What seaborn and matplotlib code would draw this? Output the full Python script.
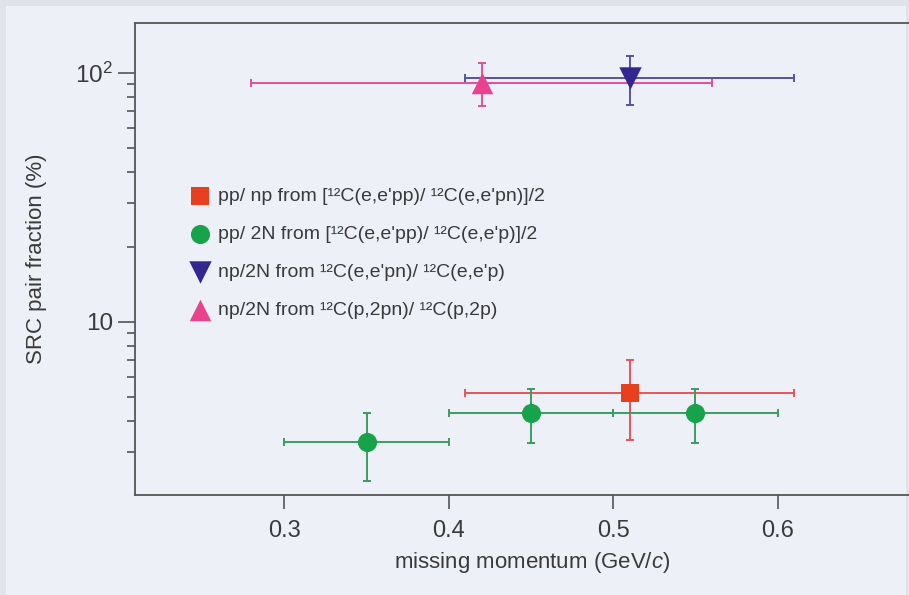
import numpy as np
import pandas as pd
import matplotlib
matplotlib.use("Agg")
import matplotlib.pyplot as plt
import seaborn as sns
from matplotlib.patches import Rectangle
from matplotlib.ticker import FixedLocator, FixedFormatter, NullFormatter

# --- data -----------------------------------------------------------------
labels = [
    "pp/ np from [¹²C(e,e'pp)/ ¹²C(e,e'pn)]/2",
    "pp/ 2N from [¹²C(e,e'pp)/ ¹²C(e,e'p)]/2",
    "np/2N from ¹²C(e,e'pn)/ ¹²C(e,e'p)",
    "np/2N from ¹²C(p,2pn)/ ¹²C(p,2p)",
]

pp_np_p = [0.51]
pp_np_frac = [5.15]
pp_np_err_lo = [1.8]
pp_np_err_hi = [1.85]
pp_np_bin_lo = [0.41]
pp_np_bin_hi = [0.61]

pp_2n_p = [0.35, 0.45, 0.55]
pp_2n_frac = [3.3, 4.3, 4.3]
pp_2n_err_lo = [1.0, 1.05, 1.05]
pp_2n_err_hi = [1.0, 1.05, 1.05]
pp_2n_bin_lo = [0.30, 0.40, 0.50]
pp_2n_bin_hi = [0.40, 0.50, 0.60]

np_2n_e_p = [0.51]
np_2n_e_frac = [95.0]
np_2n_e_err_lo = [21.0]
np_2n_e_err_hi = [22.0]
np_2n_e_bin_lo = [0.41]
np_2n_e_bin_hi = [0.61]

np_2n_p_p = [0.42]
np_2n_p_frac = [91.0]
np_2n_p_err_lo = [17.5]
np_2n_p_err_hi = [18.7]
np_2n_p_bin_lo = [0.28]
np_2n_p_bin_hi = [0.56]

y_ticks = [10, 100]
y_tick_labels = ["10", "$10^2$"]
x_ticks = [0.3, 0.4, 0.5, 0.6]
x_tick_labels = ["0.3", "0.4", "0.5", "0.6"]

# --- styling -----------------------------------------------------------------
sns.set_theme(style="ticks")
plt.rcParams["font.family"] = ["Liberation Sans Narrow", "Liberation Sans", "DejaVu Sans"]
plt.rcParams["mathtext.fontset"] = "custom"
plt.rcParams["mathtext.rm"] = "Liberation Sans"
plt.rcParams["mathtext.it"] = "Liberation Sans:italic"

panel = "#eef0f7"
edge = "#e0e3e9"
text_col = "#3a3a3a"
spine_col = "#555555"

colors = ["#e8401f", "#17a34a", "#33268f", "#e8438f"]
err_colors = ["#e8525a", "#3a9c60", "#5850a2", "#e0509a"]
markers = ["s", "o", "v", "^"]
sizes = [150, 190, 260, 240]

groups = [
    (pp_np_p, pp_np_frac, pp_np_err_lo, pp_np_err_hi, pp_np_bin_lo, pp_np_bin_hi),
    (pp_2n_p, pp_2n_frac, pp_2n_err_lo, pp_2n_err_hi, pp_2n_bin_lo, pp_2n_bin_hi),
    (np_2n_e_p, np_2n_e_frac, np_2n_e_err_lo, np_2n_e_err_hi, np_2n_e_bin_lo, np_2n_e_bin_hi),
    (np_2n_p_p, np_2n_p_frac, np_2n_p_err_lo, np_2n_p_err_hi, np_2n_p_bin_lo, np_2n_p_bin_hi),
]

W, H = 909, 595
fig = plt.figure(figsize=(W / 100, H / 100), dpi=100)
fig.patch.set_facecolor(edge)
fig.patches.append(Rectangle((6 / W, 0), (W - 9) / W, (H - 6) / H,
                             transform=fig.transFigure, facecolor=panel,
                             edgecolor="none", zorder=-10))

ax_left, ax_right, ax_top, ax_bottom = 135, 930, 22.7, 495
ax = fig.add_axes([ax_left / W, (H - ax_bottom) / H,
                   (ax_right - ax_left) / W, (ax_bottom - ax_top) / H])
ax.set_facecolor("none")

frames = []
for lab, (p, f, elo, ehi, blo, bhi) in zip(labels, groups):
    frames.append(pd.DataFrame({"p": p, "frac": f, "err_lo": elo, "err_hi": ehi,
                                "bin_lo": blo, "bin_hi": bhi, "series": lab}))
df = pd.concat(frames, ignore_index=True)

# error bars: horizontal = momentum bin, vertical = uncertainty
for i, lab in enumerate(labels):
    d = df[df["series"] == lab]
    ax.errorbar(d["p"], d["frac"],
                xerr=[d["p"] - d["bin_lo"], d["bin_hi"] - d["p"]],
                yerr=[d["err_lo"], d["err_hi"]],
                fmt="none", ecolor=err_colors[i], elinewidth=1.4,
                capsize=3, capthick=1.4, zorder=2 + i * 0.1)

for i, lab in enumerate(labels):
    d = df[df["series"] == lab]
    sns.scatterplot(data=d, x="p", y="frac", ax=ax, marker=markers[i],
                    color=colors[i], s=sizes[i], linewidth=0, label=lab,
                    zorder=4)

ax.set_yscale("log")
ax.set_xlim(0.2092, 0.6926)
ax.set_ylim(2.014, 158.8)

ax.xaxis.set_major_locator(FixedLocator(x_ticks))
ax.xaxis.set_major_formatter(FixedFormatter(x_tick_labels))
ax.yaxis.set_major_locator(FixedLocator(y_ticks))
ax.yaxis.set_major_formatter(FixedFormatter(y_tick_labels))
ax.yaxis.set_minor_locator(FixedLocator([2, 3, 4, 5, 6, 7, 8, 9, 20, 30, 40, 50, 60, 70, 80, 90]))
ax.yaxis.set_minor_formatter(NullFormatter())
ax.xaxis.set_minor_locator(FixedLocator([]))

for s in ["left", "bottom", "top"]:
    ax.spines[s].set_color(spine_col)
    ax.spines[s].set_linewidth(1.3)
ax.spines["right"].set_visible(False)

ax.tick_params(axis="x", which="major", direction="out", length=10, width=1.2,
               color=spine_col, labelcolor=text_col, labelsize=17, pad=8)
ax.tick_params(axis="y", which="major", direction="out", length=12, width=1.2,
               color=spine_col, labelcolor=text_col, labelsize=17.5, pad=4)
ax.tick_params(axis="y", which="minor", direction="out", length=6, width=1.2,
               color=spine_col)
for t in ax.get_xticklabels() + ax.get_yticklabels():
    t.set_family(["Liberation Sans", "DejaVu Sans"])

ax.set_xlabel("missing momentum (GeV/$c$)", fontsize=16, color=text_col, labelpad=6)
ax.set_ylabel("SRC pair fraction (%)", fontsize=16, color=text_col, labelpad=20)

leg = ax.legend(loc="upper left", bbox_to_anchor=(180 / W, 1 - 180 / H),
                bbox_transform=fig.transFigure, frameon=False, fontsize=14,
                handletextpad=0.25, labelspacing=1.05, borderaxespad=0,
                handlelength=1.3)
for t in leg.get_texts():
    t.set_color(text_col)

fig.savefig("out.png", dpi=100, facecolor=fig.get_facecolor())
